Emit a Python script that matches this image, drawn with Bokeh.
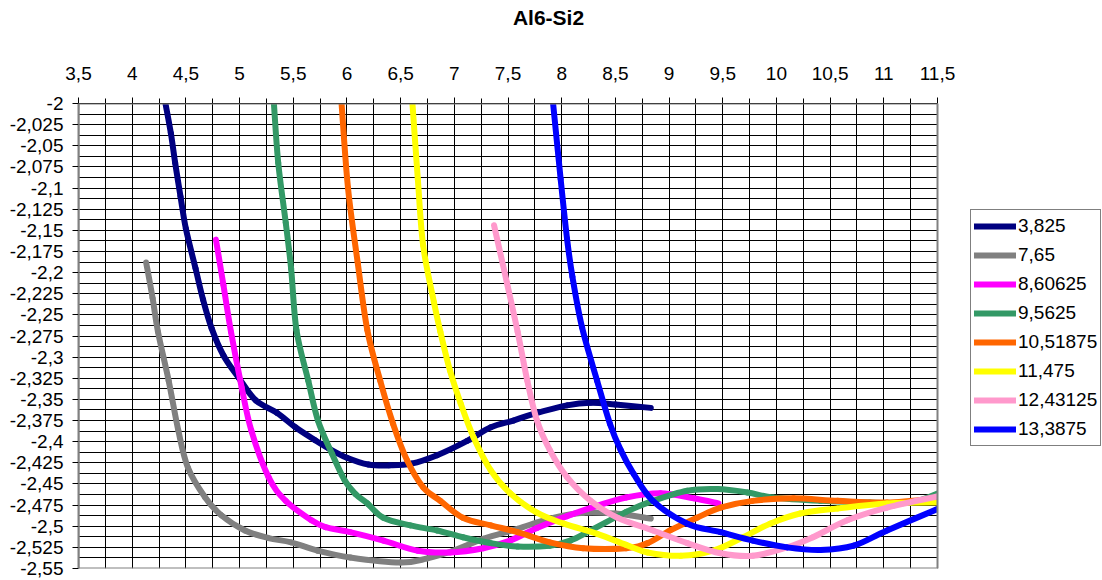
from bokeh.plotting import figure
from bokeh.models import (Range1d, FixedTicker, Legend, LegendItem, Label, BoxAnnotation)
from bokeh.embed import file_html
from bokeh.resources import INLINE

# ---- data ----
chart_title = "Al6-Si2"
series_names = ["3,825", "7,65", "8,60625", "9,5625", "10,51875", "11,475", "12,43125", "13,3875"]
series_colors = ["#000080", "#808080", "#FF00FF", "#339966", "#FF6600", "#FFFF00", "#FF99CC", "#0000FF"]

x_3825 = [4.31, 4.36, 4.40, 4.45, 4.50, 4.59, 4.66, 4.74, 4.85, 4.99, 5.15, 5.35, 5.52, 5.70, 5.83, 6.00,
          6.20, 6.40, 6.60, 6.84, 7.12, 7.34, 7.55, 7.74, 8.05, 8.27, 8.50, 8.83]
y_3825 = [-2.0, -2.035, -2.07, -2.11, -2.148, -2.195, -2.232, -2.266, -2.298, -2.324, -2.351, -2.366, -2.383,
          -2.398, -2.408, -2.419, -2.427, -2.428, -2.426, -2.416, -2.399, -2.383, -2.375, -2.367, -2.357,
          -2.354, -2.356, -2.36]

x_765 = [4.13, 4.19, 4.24, 4.34, 4.43, 4.52, 4.68, 4.83, 5.05, 5.27, 5.48, 5.73, 6.03, 6.50, 6.75, 6.99,
         7.27, 7.59, 7.89, 8.20, 8.50, 8.83]
y_765 = [-2.188, -2.23, -2.27, -2.328, -2.387, -2.431, -2.466, -2.487, -2.505, -2.514, -2.519, -2.529, -2.537,
         -2.543, -2.538, -2.529, -2.515, -2.503, -2.491, -2.484, -2.485, -2.491]

x_860625 = [4.78, 4.85, 4.92, 5.02, 5.11, 5.27, 5.43, 5.67, 5.80, 6.03, 6.34, 6.66, 6.96, 7.27, 7.52, 7.77,
            8.05, 8.33, 8.60, 8.92, 9.23, 9.46]
y_860625 = [-2.161, -2.215, -2.27, -2.336, -2.387, -2.442, -2.470, -2.493, -2.501, -2.507, -2.517, -2.529,
            -2.531, -2.526, -2.517, -2.502, -2.488, -2.476, -2.466, -2.461, -2.467, -2.473]

x_95625 = [5.32, 5.36, 5.43, 5.48, 5.53, 5.64, 5.73, 5.86, 5.98, 6.08, 6.19, 6.34, 6.59, 6.84, 7.08, 7.34,
           7.59, 7.89, 8.08, 8.27, 8.60, 8.85, 9.17, 9.45, 9.73, 9.97, 10.41, 10.87, 11.25, 11.53]
y_95625 = [-2.0, -2.07, -2.141, -2.195, -2.268, -2.328, -2.375, -2.414, -2.446, -2.462, -2.473, -2.490, -2.499,
           -2.505, -2.513, -2.520, -2.524, -2.523, -2.517, -2.505, -2.483, -2.470, -2.458, -2.456, -2.46,
           -2.466, -2.47, -2.472, -2.472, -2.46]

x_1051875 = [5.95, 6.01, 6.10, 6.19, 6.31, 6.43, 6.56, 6.71, 6.87, 7.08, 7.34, 7.59, 7.89, 8.20, 8.60,
             8.80, 9.01, 9.26, 9.48, 9.78, 10.16, 10.57, 11.03, 11.53]
y_1051875 = [-2.0, -2.1, -2.188, -2.268, -2.328, -2.379, -2.422, -2.454, -2.470, -2.490, -2.499, -2.507,
             -2.519, -2.526, -2.526, -2.520, -2.505, -2.490, -2.478, -2.470, -2.467, -2.470, -2.472, -2.467]

x_11475 = [6.61, 6.66, 6.71, 6.81, 6.87, 6.96, 7.06, 7.18, 7.34, 7.52, 7.77, 8.02, 8.33, 8.60, 8.80, 9.11,
           9.41, 9.69, 9.94, 10.22, 10.57, 11.03, 11.53]
y_11475 = [-2.0, -2.089, -2.168, -2.235, -2.270, -2.316, -2.355, -2.395, -2.434, -2.461, -2.484, -2.497,
           -2.509, -2.522, -2.531, -2.535, -2.529, -2.513, -2.497, -2.485, -2.479, -2.473, -2.472]

x_1243125 = [7.37, 7.49, 7.59, 7.68, 7.77, 7.89, 8.05, 8.27, 8.52, 8.85, 9.17, 9.48, 9.78, 10.10, 10.34,
             10.66, 11.03, 11.53]
y_1243125 = [-2.144, -2.212, -2.270, -2.328, -2.375, -2.41, -2.442, -2.47, -2.49, -2.505, -2.520, -2.532,
             -2.535, -2.525, -2.513, -2.493, -2.478, -2.464]

x_133875 = [7.92, 7.99, 8.05, 8.10, 8.19, 8.33, 8.45, 8.55, 8.67, 8.85, 9.17, 9.48, 9.78, 10.10, 10.41,
            10.72, 11.03, 11.53]
y_133875 = [-2.0, -2.089, -2.160, -2.205, -2.265, -2.328, -2.379, -2.41, -2.438, -2.470, -2.497, -2.507,
            -2.517, -2.525, -2.528, -2.523, -2.505, -2.478]

series_x = [x_3825, x_765, x_860625, x_95625, x_1051875, x_11475, x_1243125, x_133875]
series_y = [y_3825, y_765, y_860625, y_95625, y_1051875, y_11475, y_1243125, y_133875]

x_ticks = [3.5, 4.0, 4.5, 5.0, 5.5, 6.0, 6.5, 7.0, 7.5, 8.0, 8.5, 9.0, 9.5, 10.0, 10.5, 11.0, 11.5]
x_tick_labels = ["3,5", "4", "4,5", "5", "5,5", "6", "6,5", "7", "7,5", "8", "8,5", "9", "9,5", "10",
                 "10,5", "11", "11,5"]
x_minor = [3.75, 4.25, 4.75, 5.25, 5.75, 6.25, 6.75, 7.25, 7.75, 8.25, 8.75, 9.25, 9.75, 10.25, 10.75, 11.25]

y_ticks = [-2.0, -2.025, -2.05, -2.075, -2.1, -2.125, -2.15, -2.175, -2.2, -2.225, -2.25, -2.275, -2.3,
           -2.325, -2.35, -2.375, -2.4, -2.425, -2.45, -2.475, -2.5, -2.525, -2.55]
y_tick_labels = ["-2", "-2,025", "-2,05", "-2,075", "-2,1", "-2,125", "-2,15", "-2,175", "-2,2", "-2,225",
                 "-2,25", "-2,275", "-2,3", "-2,325", "-2,35", "-2,375", "-2,4", "-2,425", "-2,45", "-2,475",
                 "-2,5", "-2,525", "-2,55"]
y_minor = [-2.0125, -2.0375, -2.0625, -2.0875, -2.1125, -2.1375, -2.1625, -2.1875, -2.2125, -2.2375,
           -2.2625, -2.2875, -2.3125, -2.3375, -2.3625, -2.3875, -2.4125, -2.4375, -2.4625, -2.4875,
           -2.5125, -2.5375]

X_MIN, X_MAX = 3.5, 11.5
Y_MIN, Y_MAX = -2.55, -2.0

FONT = "Liberation Sans"
FS = "19px"
W, H = 1102, 580
LEFT, RIGHT_EDGE, TOP, BOTTOM = 78, 937, 103, 568       # plot-area pixel box
px_per_unit = (RIGHT_EDGE - LEFT) / (X_MAX - X_MIN)
x_frame_end = X_MIN + (W - LEFT) / px_per_unit          # frame extends under the legend area

p = figure(width=W, height=H, output_backend="svg", toolbar_location=None,
           x_range=Range1d(X_MIN, x_frame_end), y_range=Range1d(Y_MIN, Y_MAX),
           x_axis_location="above",
           min_border_left=LEFT, min_border_right=0, min_border_top=TOP, min_border_bottom=H - BOTTOM)

p.background_fill_color = "white"
p.border_fill_color = "white"
p.outline_line_color = None

xa = p.xaxis[0]
xa.bounds = (X_MIN, X_MAX)
xa.ticker = FixedTicker(ticks=x_ticks, minor_ticks=x_minor)
xa.major_label_overrides = {tk: lb for tk, lb in zip(x_ticks, x_tick_labels)}
xa.major_label_text_font = FONT
xa.major_label_text_font_size = FS
xa.major_label_text_color = "black"
xa.major_label_standoff = 18
xa.axis_line_color = "black"
xa.major_tick_line_color = "black"
xa.minor_tick_line_color = "black"
xa.major_tick_out = 6
xa.major_tick_in = 0
xa.minor_tick_out = 5
xa.minor_tick_in = 0

# chart title, placed in the panel above the top axis (screen offsets from that panel)
p.add_layout(Label(x=548 - LEFT, y=64 - 18, x_units="screen", y_units="screen", text=chart_title,
                   text_align="center", text_baseline="middle", text_font=FONT,
                   text_font_size="21px", text_font_style="bold", text_color="black"), "above")

ya = p.yaxis[0]
ya.ticker = FixedTicker(ticks=y_ticks, minor_ticks=y_minor)
ya.major_label_overrides = {tk: lb for tk, lb in zip(y_ticks, y_tick_labels)}
ya.major_label_text_font = FONT
ya.major_label_text_font_size = FS
ya.major_label_text_color = "black"
ya.major_label_standoff = 9
ya.axis_line_color = "#808080"
ya.axis_line_width = 2
ya.major_tick_line_color = "black"
ya.major_tick_out = 6
ya.major_tick_in = 0
ya.minor_tick_line_color = None

for g in (p.xgrid[0], p.ygrid[0]):
    g.grid_line_color = "black"
    g.grid_line_width = 1
    g.grid_line_alpha = 1.0
    g.minor_grid_line_color = "black"
    g.minor_grid_line_width = 1


def smooth_segments(xs, ys):
    """Cubic Bezier control points (Catmull-Rom style) through the given points."""
    n = len(xs)
    d = dict(x0=[], y0=[], x1=[], y1=[], cx0=[], cy0=[], cx1=[], cy1=[])
    for i in range(n - 1):
        a = i - 1 if i > 0 else i
        b = i + 2 if i + 2 < n else i + 1
        d["x0"].append(xs[i]); d["y0"].append(ys[i])
        d["x1"].append(xs[i + 1]); d["y1"].append(ys[i + 1])
        d["cx0"].append(xs[i] + (xs[i + 1] - xs[a]) / 6.0)
        d["cy0"].append(ys[i] + (ys[i + 1] - ys[a]) / 6.0)
        d["cx1"].append(xs[i + 1] - (xs[b] - xs[i]) / 6.0)
        d["cy1"].append(ys[i + 1] - (ys[b] - ys[i]) / 6.0)
    return d


items = []
for name, color, xs, ys in zip(series_names, series_colors, series_x, series_y):
    seg = smooth_segments(xs, ys)
    r = p.bezier(line_color=color, line_width=6, line_cap="round", **seg)
    items.append(LegendItem(label=name, renderers=[r]))

# blank out the part of the frame right of the plot area, then draw the plot-area border
p.add_layout(BoxAnnotation(left=X_MAX, fill_color="white", fill_alpha=1.0, line_color=None))
p.add_layout(BoxAnnotation(left=X_MIN, right=X_MAX, bottom=Y_MIN, top=Y_MAX, fill_alpha=0.0,
                           line_color="#808080", line_width=2, line_alpha=1.0))

legend = Legend(items=items, location=(892, 122), orientation="vertical",
                border_line_color="black", border_line_width=1, background_fill_color="white",
                label_text_font=FONT, label_text_font_size=FS, label_text_color="black",
                glyph_width=42, glyph_height=26, label_height=26, spacing=3, padding=3, margin=0,
                label_standoff=2)
p.add_layout(legend, "center")

open("out.html", "w").write(file_html(p, INLINE))
